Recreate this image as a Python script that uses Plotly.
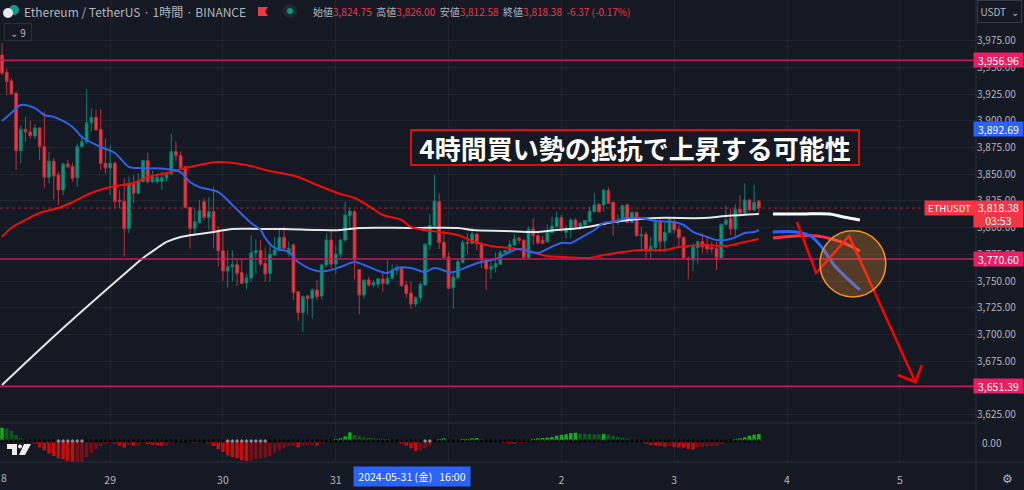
import pandas as pd
import plotly.graph_objects as go
from plotly.subplots import make_subplots

# ETHUSDT 1h candles
opens = [3961.8, 3945.6, 3937.5, 3925.9, 3872.2, 3892.2, 3889.7, 3885.9, 3893.4, 3875.9,
         3847.2, 3862.2, 3849.4, 3835.3, 3859.7, 3857.2, 3846.8, 3875.9, 3880.6, 3898.4,
         3903.4, 3892.2, 3860.3, 3855.9, 3860.3, 3825.9, 3824.7, 3799.0, 3840.6, 3832.2,
         3843.1, 3862.8, 3843.1, 3843.1, 3843.4, 3846.8, 3850.3, 3871.2, 3867.5, 3857.2,
         3819.0, 3799.3, 3804.6, 3824.3, 3809.6, 3815.0, 3797.2, 3778.4, 3759.3, 3763.4,
         3765.3, 3757.8, 3748.4, 3752.8, 3776.5, 3778.4, 3766.5, 3757.2, 3774.3, 3779.0,
         3790.9, 3775.9, 3783.7, 3740.0, 3720.3, 3735.9, 3733.7, 3741.5, 3735.9, 3765.0,
         3788.4, 3765.9, 3775.3, 3788.4, 3811.2, 3815.0, 3760.9, 3736.8, 3750.9, 3746.5,
         3747.1, 3751.9, 3747.2, 3752.5, 3760.0, 3761.9, 3746.2, 3738.8, 3728.4, 3734.4,
         3746.2, 3783.8, 3801.9, 3824.4, 3786.2, 3772.5, 3743.8, 3753.1, 3767.5, 3786.2,
         3785.3, 3794.0, 3785.0, 3769.7, 3761.2, 3763.1, 3765.6, 3776.9, 3778.4, 3783.8,
         3790.0, 3788.1, 3771.9, 3798.8, 3792.5, 3788.1, 3786.9, 3795.6, 3801.0, 3809.4,
         3795.6, 3797.8, 3807.2, 3801.0, 3802.5, 3805.6, 3815.0, 3821.9, 3821.3, 3834.7,
         3823.8, 3804.7, 3806.3, 3821.3, 3805.0, 3814.4, 3792.2, 3793.8, 3779.1, 3781.3,
         3805.0, 3787.5, 3795.6, 3805.6, 3798.5, 3791.0, 3771.3, 3769.7, 3781.3, 3786.9,
         3784.4, 3781.3, 3780.6, 3771.9, 3803.1, 3808.8, 3798.8, 3817.2, 3813.5, 3826.0,
         3816.6, 3824.75]
highs = [3973.1, 3949.3, 3940.0, 3927.5, 3896.2, 3904.0, 3900.3, 3897.2, 3894.0, 3908.7,
         3871.2, 3865.0, 3852.5, 3860.9, 3863.4, 3860.9, 3879.0, 3885.3, 3930.0, 3911.8,
         3910.3, 3910.9, 3883.7, 3877.5, 3861.8, 3835.3, 3846.2, 3847.8, 3849.4, 3850.9,
         3863.4, 3870.3, 3853.4, 3850.9, 3852.5, 3850.9, 3887.8, 3880.6, 3871.2, 3857.8,
         3819.7, 3818.1, 3825.9, 3827.5, 3828.4, 3837.8, 3801.5, 3798.4, 3779.0, 3779.0,
         3771.2, 3771.2, 3757.2, 3793.1, 3789.0, 3788.4, 3781.5, 3783.7, 3791.5, 3797.8,
         3800.9, 3786.8, 3785.3, 3740.0, 3736.8, 3737.1, 3743.1, 3750.9, 3766.5, 3794.7,
         3798.4, 3783.7, 3789.0, 3824.3, 3818.7, 3816.5, 3760.9, 3751.5, 3753.4, 3750.9,
         3752.8, 3759.4, 3769.7, 3765.6, 3765.6, 3762.5, 3750.0, 3749.4, 3735.3, 3748.8,
         3785.3, 3812.5, 3849.4, 3832.2, 3796.9, 3776.9, 3758.8, 3771.2, 3788.4, 3794.7,
         3800.3, 3794.7, 3786.9, 3769.7, 3767.5, 3776.9, 3779.0, 3779.0, 3788.4, 3793.8,
         3791.6, 3789.4, 3801.0, 3808.8, 3794.7, 3792.5, 3803.1, 3810.3, 3815.0, 3811.9,
         3802.5, 3808.8, 3808.8, 3805.6, 3807.2, 3819.7, 3832.2, 3822.8, 3836.0, 3837.8,
         3824.4, 3812.5, 3821.3, 3822.8, 3815.0, 3815.0, 3801.0, 3796.3, 3791.6, 3808.8,
         3808.8, 3805.6, 3809.4, 3808.8, 3802.5, 3791.0, 3772.8, 3785.3, 3787.8, 3794.7,
         3790.0, 3786.9, 3786.9, 3804.1, 3820.6, 3818.1, 3821.9, 3830.6, 3841.6, 3826.0,
         3840.0, 3826.0]
lows = [3943.1, 3924.3, 3924.3, 3854.0, 3860.3, 3880.6, 3883.7, 3882.8, 3863.4, 3836.9,
        3841.5, 3826.5, 3821.2, 3830.6, 3855.6, 3843.1, 3838.4, 3875.3, 3878.4, 3890.0,
        3890.9, 3854.0, 3850.9, 3830.6, 3818.1, 3818.1, 3772.8, 3794.7, 3822.8, 3831.5,
        3842.5, 3841.5, 3842.2, 3841.5, 3835.3, 3843.1, 3849.7, 3861.8, 3855.6, 3818.1,
        3780.6, 3793.1, 3804.0, 3807.1, 3797.8, 3780.6, 3763.4, 3750.3, 3744.0, 3749.3,
        3745.3, 3747.2, 3742.1, 3749.3, 3757.2, 3764.0, 3749.3, 3749.3, 3773.7, 3777.5,
        3779.0, 3772.8, 3732.1, 3712.8, 3702.5, 3718.1, 3715.0, 3732.1, 3732.8, 3763.4,
        3761.9, 3756.5, 3771.2, 3786.8, 3799.3, 3751.5, 3719.0, 3733.7, 3744.7, 3744.0,
        3743.1, 3740.0, 3746.9, 3751.9, 3755.6, 3744.7, 3734.4, 3723.8, 3726.0, 3730.6,
        3745.6, 3779.0, 3801.0, 3780.0, 3771.9, 3742.5, 3723.8, 3751.9, 3766.6, 3775.0,
        3784.4, 3779.0, 3761.9, 3741.6, 3751.9, 3758.1, 3765.0, 3776.0, 3776.0, 3782.8,
        3785.3, 3770.6, 3771.2, 3783.8, 3784.4, 3784.4, 3786.0, 3794.7, 3799.4, 3795.6,
        3790.0, 3790.0, 3799.4, 3797.8, 3801.9, 3805.0, 3814.4, 3813.5, 3815.0, 3822.2,
        3792.5, 3802.5, 3805.6, 3804.4, 3804.1, 3791.6, 3780.0, 3771.3, 3771.3, 3776.9,
        3776.9, 3776.9, 3794.7, 3794.7, 3782.2, 3770.6, 3751.9, 3759.4, 3765.6, 3776.0,
        3776.0, 3776.0, 3760.3, 3771.3, 3801.9, 3793.1, 3790.0, 3812.5, 3812.5, 3815.0,
        3815.6, 3812.58]
closes = [3945.0, 3936.8, 3925.3, 3872.2, 3892.2, 3889.7, 3886.2, 3893.4, 3875.9, 3847.2,
          3862.2, 3848.4, 3835.3, 3859.7, 3857.2, 3846.2, 3875.9, 3880.6, 3898.4, 3903.4,
          3891.5, 3860.3, 3855.9, 3860.3, 3824.7, 3824.7, 3799.0, 3841.5, 3832.2, 3843.1,
          3862.8, 3843.1, 3847.2, 3847.2, 3846.8, 3850.0, 3871.2, 3867.5, 3856.5, 3819.0,
          3799.3, 3805.6, 3815.9, 3809.6, 3815.0, 3797.2, 3778.4, 3759.3, 3763.4, 3765.3,
          3757.2, 3747.8, 3752.8, 3776.5, 3778.4, 3765.9, 3756.5, 3775.0, 3779.0, 3790.9,
          3780.6, 3780.6, 3739.3, 3720.3, 3735.3, 3733.4, 3741.5, 3735.3, 3765.0, 3788.4,
          3765.9, 3775.3, 3788.4, 3811.8, 3815.6, 3769.7, 3736.8, 3750.9, 3746.2, 3748.4,
          3752.1, 3747.8, 3752.5, 3760.3, 3761.9, 3745.6, 3738.4, 3728.4, 3734.4, 3746.9,
          3784.4, 3801.9, 3825.0, 3786.2, 3772.2, 3743.1, 3753.8, 3768.1, 3786.2, 3785.3,
          3794.0, 3785.0, 3769.7, 3761.2, 3763.4, 3766.2, 3776.9, 3778.4, 3784.4, 3789.4,
          3788.1, 3771.9, 3798.8, 3792.5, 3785.6, 3785.3, 3795.6, 3801.6, 3809.4, 3799.4,
          3799.4, 3807.2, 3801.0, 3804.1, 3806.6, 3815.6, 3821.3, 3815.0, 3835.3, 3822.8,
          3805.6, 3807.2, 3820.6, 3805.0, 3814.4, 3792.5, 3793.1, 3778.1, 3782.2, 3805.0,
          3786.9, 3795.6, 3807.8, 3797.8, 3790.6, 3771.3, 3770.6, 3782.2, 3786.9, 3781.9,
          3780.0, 3780.0, 3771.9, 3803.1, 3807.2, 3798.8, 3817.2, 3813.5, 3826.0, 3816.6,
          3823.8, 3818.38]

# moving averages: bar number, price
blue_bar = [0, 2, 4, 7, 9, 11, 15, 17, 21, 24, 27, 29, 35, 38, 40, 42, 46, 49, 53, 55, 56, 58, 61, 63,
            67, 69, 72, 75, 77, 82, 84, 87, 90, 92, 95, 96, 100, 102, 105, 108, 110, 114, 116, 119,
            121, 123, 126, 128, 130, 133, 136, 139, 143, 145, 147, 150, 152, 155, 157, 158, 160, 161]
blue_ma = [3900, 3907.5, 3915, 3912, 3905.6, 3903.8, 3894.4, 3885, 3875.6, 3870, 3856.9, 3855.9, 3855,
           3852, 3842.8, 3838, 3833.4, 3821.3, 3804.4, 3797.8, 3790.3, 3781, 3777.2, 3767.8, 3759.4,
           3759.4, 3763.1, 3767.8, 3765, 3757.5, 3762.2, 3762.2, 3758.4, 3762.2, 3758.4, 3758.4, 3765,
           3767.8, 3770.6, 3777.2, 3780, 3776.3, 3780, 3785.6, 3785.6, 3790.3, 3797.8, 3804.4, 3805.3,
           3809, 3809, 3806.3, 3805.3, 3802.5, 3796, 3791.3, 3788.4, 3789.4, 3793, 3795, 3796, 3797.8]

red_bar = [0, 2, 5, 8, 12, 15, 19, 23, 28, 31, 36, 39, 42, 46, 53, 56, 63, 67, 72, 75, 79, 81, 85, 87,
           93, 97, 100, 104, 108, 112, 116, 119, 123, 125, 128, 132, 136, 141, 144, 149, 154, 157, 161]
red_ma = [3791.3, 3799.7, 3807.2, 3813.8, 3818.4, 3824, 3832.5, 3838.1, 3841.9, 3847.5, 3852.2, 3856,
          3858.8, 3861.6, 3857.8, 3854.1, 3847.5, 3840, 3831.6, 3827.8, 3817.5, 3811.9, 3807.2, 3800.6,
          3795.9, 3793.1, 3787.5, 3782.8, 3780.9, 3778.1, 3773.4, 3772.5, 3771.6, 3771.6, 3774.4, 3777.2,
          3779.1, 3779.1, 3781.9, 3783.8, 3782.8, 3785.6, 3789.4]

white_bar = [0, 13, 27, 30, 33, 35, 38, 42, 45, 49, 55, 60, 67, 72, 76, 87, 97, 100, 107, 114, 118, 123,
             128, 130, 139, 149, 154, 161]
white_ma = [3652.5, 3705.9, 3760.3, 3771.6, 3780.9, 3786.6, 3791.3, 3794.1, 3796, 3798.8, 3798.8, 3798.8,
            3797.8, 3797.8, 3799.7, 3799.7, 3799.7, 3797.8, 3796.9, 3796, 3797.8, 3799.7, 3803.4, 3805.3,
            3809, 3809, 3810.9, 3812.8]

# hand drawn projection on the right
white_draw_bar = [164, 170, 176, 179, 182.5]
white_draw = [3812.8, 3812.8, 3812.8, 3810, 3807.2]
blue_draw_bar = [164, 169, 172, 174.5, 177, 182.5]
blue_draw = [3796, 3796, 3792.2, 3781, 3765, 3741.6]
red_draw_bar = [164, 169, 173.5, 178.5, 182.5]
red_draw = [3790.3, 3792.2, 3792.2, 3786.6, 3778.1]
arrow_bar = [169.1, 173.2, 180.2, 194.3, 190.6, 194.3, 195.7]
arrow_price = [3805.3, 3757.5, 3792.2, 3655.3, 3661.9, 3655.3, 3671.3]

hlines = [3956.96, 3770.60, 3651.39]
last_price = 3818.38
price_ticks = list(range(3625, 4000, 25))

# squeeze momentum histogram, one value per bar
squeeze = [40, 38, 30, 18, 8, -2, -3, -8, -18, -28, -38, -45, -52, -55, -60, -65, -64, -62, -48, -35,
           -25, -15, -8, -6, -8, -14, -20, -12, -14, -14, -6, -9, -12, -13, -14, -14, -4, 0, 3, 1,
           -1, -4, -2, -3, -7, -15, -25, -33, -42, -48, -52, -58, -60, -58, -54, -52, -50, -46, -35, -28,
           -22, -15, -14, -19, -14, -13, -12, -14, -5, -1, 2, 4, 8, 14, 26, 18, 14, 11, 9, 8,
           7, 6, 4, 2, -1, -8, -14, -22, -30, -28, -22, -14, 0, 4, 8, 3, 1, 1, 4, 6,
           8, 9, 6, 3, 2, 1, -1, -4, -7, -8, -6, -4, 1, 4, 8, 9, 10, 12, 16, 18,
           20, 24, 25, 22, 22, 21, 20, 20, 21, 19, 15, 12, 9, 7, 3, 1, -1, -8, -12, -14,
           -15, -17, -15, -18, -19, -20, -24, -26, -20, -18, -16, -15, -14, -9, -3, 1, 5, 8, 11, 16,
           19, 21]
squeeze_gray_bars = [12, 13, 14, 15, 16, 17, 48, 49, 50, 51, 52, 53, 54, 55, 56, 90, 91]

# "1" sits under the blue crosshair label in the picture
day_labels = ["29", "30", "31", "", "2", "3", "4", "5"]
day_dates = ["2024-05-29", "2024-05-30", "2024-05-31", "2024-06-01",
             "2024-06-02", "2024-06-03", "2024-06-04", "2024-06-05"]

BG = "#151924"
GRID = "#20242f"
RED = "#f23645"
GREEN = "#089981"
PINK = "#e91e63"
BLUE = "#2962ff"
TEXT = "#b2b5be"
FONT = "Noto Sans CJK JP"

start = pd.Timestamp("2024-05-28 01:00")


def bar_time(bars):
    return [start + pd.Timedelta(hours=b) for b in bars]


def px(x):
    return x / 976


def py(y):
    return (462 - y) / 462


def poly(points):
    return "M " + " L ".join(f"{px(x)},{py(y)}" for x, y in points) + " Z"


times = bar_time(range(len(opens)))

fig = make_subplots(rows=2, cols=1, shared_xaxes=True, vertical_spacing=0, row_heights=[423, 39])

fig.add_trace(go.Candlestick(x=times, open=opens, high=highs, low=lows, close=closes, whiskerwidth=0,
                             increasing=dict(line=dict(color="#0a7f6d", width=1), fillcolor=GREEN),
                             decreasing=dict(line=dict(color="#c22f3b", width=1), fillcolor=RED)),
              row=1, col=1)

fig.add_trace(go.Scatter(x=bar_time(white_bar), y=white_ma, mode="lines",
                         line=dict(color="#e6e6e6", width=2, shape="spline")), row=1, col=1)
fig.add_trace(go.Scatter(x=bar_time(red_bar), y=red_ma, mode="lines",
                         line=dict(color="#f20d0d", width=2, shape="spline")), row=1, col=1)
fig.add_trace(go.Scatter(x=bar_time(blue_bar), y=blue_ma, mode="lines",
                         line=dict(color="#2f62e8", width=2, shape="spline")), row=1, col=1)

fig.add_trace(go.Scatter(x=bar_time(white_draw_bar), y=white_draw, mode="lines",
                         line=dict(color="white", width=3, shape="spline")), row=1, col=1)
fig.add_trace(go.Scatter(x=bar_time(red_draw_bar), y=red_draw, mode="lines",
                         line=dict(color="#ff2d3a", width=3, shape="spline")), row=1, col=1)
fig.add_trace(go.Scatter(x=bar_time(blue_draw_bar), y=blue_draw, mode="lines",
                         line=dict(color=BLUE, width=3, shape="spline")), row=1, col=1)
fig.add_trace(go.Scatter(x=bar_time(arrow_bar), y=arrow_price, mode="lines",
                         line=dict(color="#ff0000", width=2.5)), row=1, col=1)
fig.add_trace(go.Scatter(x=bar_time([134]), y=[3860.6], mode="markers",
                         marker=dict(size=5, color=BG, line=dict(color=BLUE, width=1))), row=1, col=1)

# histogram colours follow the rising / falling state of the indicator
colors = []
for i, v in enumerate(squeeze):
    prev = squeeze[i - 1] if i else v - 1
    if v >= 0:
        colors.append("#12ad1e" if v > prev else "#0c5a22")
    else:
        colors.append("#c40d0d" if v < prev else "#751018")
fig.add_trace(go.Bar(x=times, y=squeeze, marker=dict(color=colors, line=dict(width=0))), row=2, col=1)
dot_colors = ["#8f8f96" if i in squeeze_gray_bars else "#000000" for i in range(len(squeeze))]
fig.add_trace(go.Scatter(x=times, y=[0] * len(squeeze), mode="markers",
                         marker=dict(symbol="diamond", size=3, color=dot_colors)), row=2, col=1)

shapes = []
for h in hlines:
    shapes.append(dict(type="line", xref="paper", x0=0, x1=1, yref="y", y0=h, y1=h,
                       line=dict(color="#c2185b", width=1.5)))
shapes.append(dict(type="line", xref="paper", x0=0, x1=1, yref="y", y0=last_price, y1=last_price,
                   line=dict(color="rgba(242,54,69,0.55)", width=1, dash="dot")))
# orange circle
c0, c1 = bar_time([174, 188])
shapes.append(dict(type="circle", xref="x", yref="y", x0=c0, x1=c1, y0=3735, y1=3797,
                   fillcolor="rgba(255,152,50,0.27)", line=dict(color="#f7931a", width=1.5)))
# pane separators
for y in (423, 462):
    shapes.append(dict(type="line", xref="paper", yref="paper", x0=0, x1=1062 / 976 if y == 462 else 1,
                       y0=py(y), y1=py(y), line=dict(color="#2a2e39", width=1)))
shapes.append(dict(type="line", xref="paper", yref="paper", x0=1, x1=1, y0=py(490), y1=py(0),
                   line=dict(color="#2a2e39", width=1)))
# header icons
shapes.append(dict(type="circle", xref="paper", yref="paper", x0=px(9), x1=px(19), y0=py(15), y1=py(5),
                   fillcolor="#0f9d8a", line=dict(width=0)))
shapes.append(dict(type="circle", xref="paper", yref="paper", x0=px(3), x1=px(13), y0=py(18), y1=py(8),
                   fillcolor="#e8e8ee", line=dict(width=0)))
shapes.append(dict(type="path", xref="paper", yref="paper",
                   path=poly([(258, 7), (268, 7), (265, 11.5), (268, 16), (258, 16)]),
                   fillcolor=RED, line=dict(width=0)))
shapes.append(dict(type="circle", xref="paper", yref="paper", x0=px(283), x1=px(297), y0=py(18), y1=py(4),
                   fillcolor="#23272f", line=dict(width=0)))
shapes.append(dict(type="circle", xref="paper", yref="paper", x0=px(287), x1=px(293), y0=py(14), y1=py(8),
                   fillcolor=GREEN, line=dict(width=0)))
# tradingview mark
for pts in ([(7, 444), (17, 444), (17, 455), (12, 455), (12, 449), (7, 449)],
            [(24, 444), (31, 444), (25, 455), (19, 455)]):
    shapes.append(dict(type="path", xref="paper", yref="paper", path=poly(pts),
                       fillcolor="#eeeeee", line=dict(width=0)))
shapes.append(dict(type="circle", xref="paper", yref="paper", x0=px(18), x1=px(22), y0=py(448.5), y1=py(444.5),
                   fillcolor="#eeeeee", line=dict(width=0)))

annotations = []


def label(text, x, y, color=TEXT, size=10, anchor="left", **kw):
    annotations.append(dict(text=text, xref="paper", yref="paper", x=px(x), y=py(y), xanchor=anchor,
                            yanchor="middle", showarrow=False, font=dict(color=color, size=size, family=FONT),
                            **kw))


def price_box(text, price, color, height=14):
    annotations.append(dict(text=text, xref="paper", yref="y", x=px(973), y=price, xanchor="left",
                            yanchor="middle", showarrow=False, width=49, height=height, bgcolor=color,
                            borderpad=0, align="center", font=dict(color="white", size=10.5, family=FONT)))


label("Ethereum / TetherUS · 1時間 · BINANCE", 22, 11, size=12)
v = f'<span style="color:{RED}">%s</span>'
header = ("始値" + v % "3,824.75" + "  高値" + v % "3,826.00" + "  安値" + v % "3,812.58"
          + "  終値" + v % "3,818.38" + "  " + v % "-6.37 (-0.17%)")
label(header, 311, 11, size=10)
label("⌄ 9", 4, 32, size=10, bordercolor="#2a2e39", borderwidth=1, borderpad=1, width=24, height=14, align="center")
label("USDT  ⌄", 977, 11.5, size=10, bordercolor="#363a45", borderwidth=1, borderpad=1, width=41, height=19,
      align="center")
label("8", -1, 478, size=10.5)
label("0.00", 980, 442, size=10)
label("⚙", 1000, 478, size=12)
label("2024-05-31 (金)   16:00", 353, 476.5, color="white", size=10.5, bgcolor=BLUE, width=116, height=19,
      borderpad=0, align="center")

annotations.append(dict(text="<b>4時間買い勢の抵抗で上昇する可能性</b>", xref="paper", yref="paper", x=px(635), y=py(147),
                        xanchor="center", yanchor="middle", showarrow=False, bgcolor="#151924",
                        bordercolor="#e00d0d", borderwidth=2, borderpad=2, width=442, height=29,
                        font=dict(color="white", size=26, family=FONT)))

price_box("3,956.96", hlines[0], PINK)
price_box("3,892.69", 3892.69, BLUE)
price_box("3,770.60", hlines[1], PINK)
price_box("3,651.39", hlines[2], PINK)
price_box("3,818.38<br>03:53", 3812.8, RED, height=26)
annotations.append(dict(text="ETHUSDT", xref="paper", yref="y", x=px(924), y=last_price, xanchor="left",
                        yanchor="middle", showarrow=False, width=49, height=14, bgcolor=RED, borderpad=0,
                        font=dict(color="white", size=9.5, family=FONT)))

fig.update_layout(width=1024, height=490, margin=dict(l=0, r=48, t=0, b=28), showlegend=False,
                  paper_bgcolor=BG, plot_bgcolor=BG, bargap=0.25, boxgap=0.18, hovermode=False,
                  shapes=shapes, annotations=annotations,
                  font=dict(family=FONT, color=TEXT, size=10))

x_range = [start - pd.Timedelta(hours=0.43), start + pd.Timedelta(hours=207.2)]
fig.update_xaxes(range=x_range, tickmode="array", tickvals=day_dates, ticktext=day_labels, showgrid=True,
                 gridcolor=GRID, gridwidth=1, zeroline=False, showline=False, rangeslider_visible=False,
                 ticks="")
fig.update_xaxes(showticklabels=False, row=1, col=1)
fig.update_xaxes(showticklabels=True, ticks="outside", ticklen=8, tickcolor="rgba(0,0,0,0)",
                 tickfont=dict(size=10.5, color=TEXT), row=2, col=1)
fig.update_yaxes(side="right", range=[3616.9, 4013.4], tickmode="array", tickvals=price_ticks,
                 tickformat=",.2f", gridcolor=GRID, gridwidth=1, zeroline=False, showline=False,
                 tickfont=dict(size=10, color=TEXT), row=1, col=1)
fig.update_yaxes(side="right", range=[-63, 54], showticklabels=False, showgrid=False, zeroline=False,
                 showline=False, row=2, col=1)

fig.write_html("out.html", config=dict(displayModeBar=False), post_script="document.body.style.margin='0';")
